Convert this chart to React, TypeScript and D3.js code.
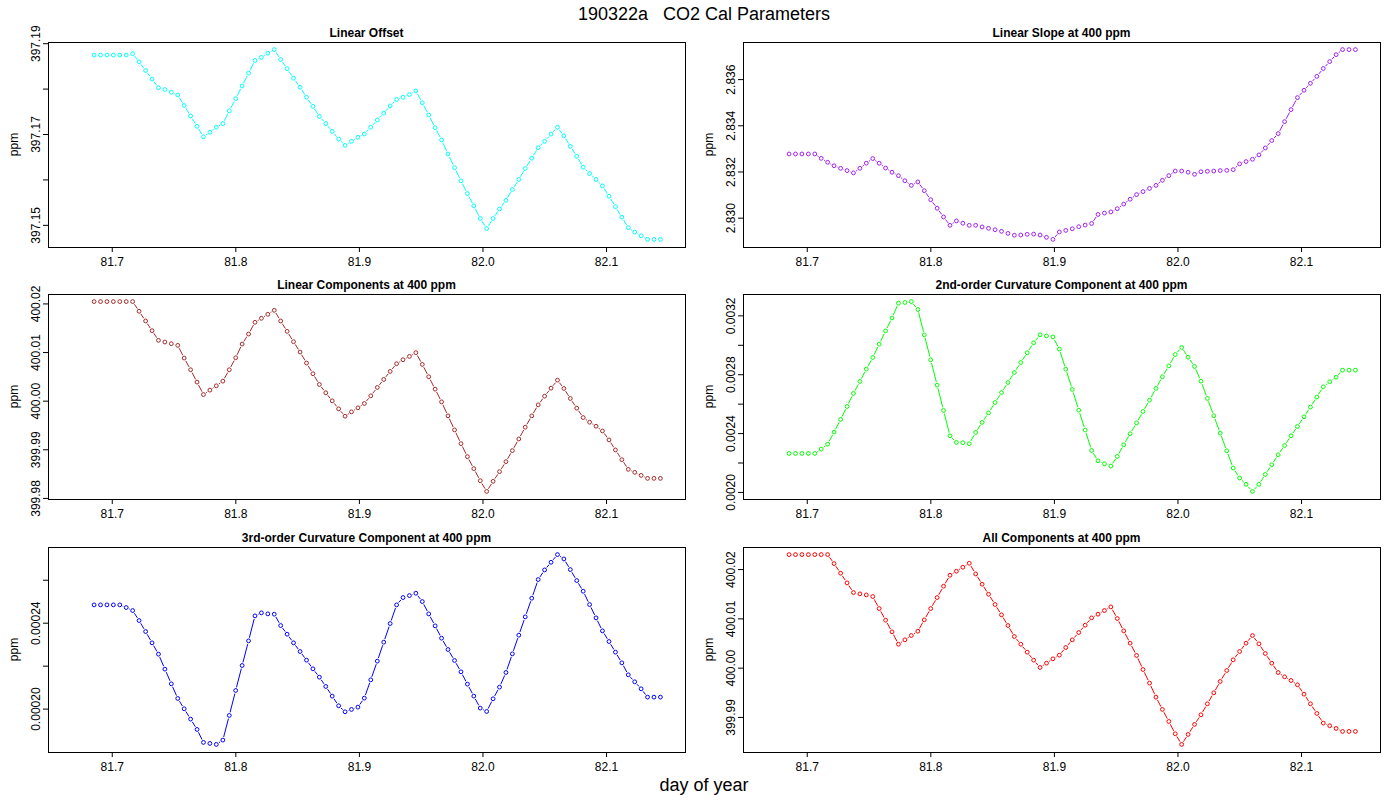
import * as d3 from 'd3';

// sample times (day of year), one every 7.5 min
const times = [
  81.6853, 81.6905, 81.6957, 81.7009, 81.7061, 81.7113, 81.7165, 81.7217, 81.7270, 81.7322,
  81.7374, 81.7426, 81.7478, 81.7530, 81.7582, 81.7634, 81.7686, 81.7738, 81.7790, 81.7842,
  81.7895, 81.7947, 81.7999, 81.8051, 81.8103, 81.8155, 81.8207, 81.8259, 81.8311, 81.8363,
  81.8415, 81.8467, 81.8520, 81.8572, 81.8624, 81.8676, 81.8728, 81.8780, 81.8832, 81.8884,
  81.8936, 81.8988, 81.9040, 81.9092, 81.9145, 81.9197, 81.9249, 81.9301, 81.9353, 81.9405,
  81.9457, 81.9509, 81.9561, 81.9613, 81.9665, 81.9717, 81.9770, 81.9822, 81.9874, 81.9926,
  81.9978, 82.0030, 82.0082, 82.0134, 82.0186, 82.0238, 82.0290, 82.0342, 82.0395, 82.0447,
  82.0499, 82.0551, 82.0603, 82.0655, 82.0707, 82.0759, 82.0811, 82.0863, 82.0915, 82.0967,
  82.1020, 82.1072, 82.1124, 82.1176, 82.1228, 82.1280, 82.1332, 82.1384, 82.1436,
];

const linearOffset = [
  397.1875, 397.1875, 397.1875, 397.1875, 397.1875, 397.1875, 397.1878, 397.1860, 397.1841, 397.1822,
  397.1803, 397.1799, 397.1793, 397.1787, 397.1764, 397.1741, 397.1718, 397.1695, 397.1705, 397.1716,
  397.1724, 397.1752, 397.1779, 397.1807, 397.1835, 397.1863, 397.1870, 397.1879, 397.1887, 397.1865,
  397.1845, 397.1824, 397.1804, 397.1782, 397.1762, 397.1740, 397.1724, 397.1707, 397.1690, 397.1676,
  397.1685, 397.1694, 397.1701, 397.1716, 397.1732, 397.1747, 397.1763, 397.1777, 397.1782, 397.1788,
  397.1796, 397.1770, 397.1743, 397.1715, 397.1688, 397.1657, 397.1627, 397.1598, 397.1570, 397.1543,
  397.1515, 397.1493, 397.1515, 397.1536, 397.1555, 397.1579, 397.1601, 397.1625, 397.1648, 397.1671,
  397.1685, 397.1701, 397.1716, 397.1697, 397.1674, 397.1652, 397.1628, 397.1614, 397.1601, 397.1587,
  397.1564, 397.1541, 397.1518, 397.1495, 397.1485, 397.1477, 397.1469, 397.1469, 397.1469,
];

const linearSlope = [
  2.83278, 2.83278, 2.83278, 2.83278, 2.83278, 2.83259, 2.83242, 2.83227, 2.83216, 2.83206,
  2.83196, 2.83216, 2.83238, 2.83258, 2.83238, 2.83217, 2.83199, 2.83184, 2.83162, 2.83142,
  2.83157, 2.83119, 2.83080, 2.83043, 2.83005, 2.82969, 2.82988, 2.82978, 2.82969, 2.82969,
  2.82962, 2.82956, 2.82950, 2.82943, 2.82934, 2.82926, 2.82927, 2.82930, 2.82931, 2.82927,
  2.82917, 2.82908, 2.82940, 2.82947, 2.82954, 2.82963, 2.82970, 2.82977, 2.83016, 2.83022,
  2.83027, 2.83041, 2.83061, 2.83082, 2.83102, 2.83115, 2.83129, 2.83142, 2.83164, 2.83184,
  2.83204, 2.83204, 2.83199, 2.83190, 2.83201, 2.83203, 2.83204, 2.83206, 2.83207, 2.83210,
  2.83235, 2.83245, 2.83255, 2.83274, 2.83304, 2.83336, 2.83366, 2.83418, 2.83470, 2.83522,
  2.83554, 2.83584, 2.83614, 2.83648, 2.83678, 2.83708, 2.83730, 2.83730, 2.83730,
];

const linearComponents = [
  400.02048, 400.02048, 400.02048, 400.02048, 400.02048, 400.02048, 400.02048, 400.01849, 400.01649, 400.01450,
  400.01251, 400.01216, 400.01182, 400.01148, 400.00887, 400.00646, 400.00392, 400.00137, 400.00227, 400.00316,
  400.00412, 400.00646, 400.00893, 400.01175, 400.01381, 400.01622, 400.01704, 400.01787, 400.01869, 400.01649,
  400.01436, 400.01223, 400.01010, 400.00784, 400.00564, 400.00344, 400.00172, 400.00007, 399.99842, 399.99691,
  399.99780, 399.99863, 399.99952, 400.00110, 400.00282, 400.00447, 400.00612, 400.00770, 400.00852, 400.00921,
  400.00997, 400.00756, 400.00502, 400.00247, 399.99986, 399.99698, 399.99409, 399.99127, 399.98859, 399.98612,
  399.98364, 399.98144, 399.98351, 399.98550, 399.98756, 399.98983, 399.99223, 399.99464, 399.99698, 399.99924,
  400.00103, 400.00268, 400.00433, 400.00261, 400.00055, 399.99856, 399.99663, 399.99567, 399.99485, 399.99388,
  399.99203, 399.98997, 399.98797, 399.98598, 399.98536, 399.98474, 399.98412, 399.98412, 399.98412,
];

const curvature2 = [
  0.002265, 0.002265, 0.002265, 0.002265, 0.002265, 0.002295, 0.002328, 0.002410, 0.002496, 0.002584,
  0.002673, 0.002754, 0.002838, 0.002917, 0.003008, 0.003098, 0.003186, 0.003286, 0.003291, 0.003297,
  0.003243, 0.003071, 0.002901, 0.002729, 0.002557, 0.002385, 0.002340, 0.002338, 0.002331, 0.002408,
  0.002476, 0.002541, 0.002611, 0.002679, 0.002747, 0.002815, 0.002883, 0.002949, 0.003017, 0.003071,
  0.003064, 0.003057, 0.002974, 0.002838, 0.002700, 0.002559, 0.002424, 0.002285, 0.002215, 0.002195,
  0.002179, 0.002245, 0.002324, 0.002399, 0.002473, 0.002550, 0.002627, 0.002707, 0.002786, 0.002860,
  0.002937, 0.002985, 0.002919, 0.002856, 0.002756, 0.002639, 0.002521, 0.002403, 0.002283, 0.002166,
  0.002098, 0.002055, 0.002007, 0.002055, 0.002122, 0.002188, 0.002256, 0.002319, 0.002385, 0.002448,
  0.002514, 0.002580, 0.002648, 0.002718, 0.002752, 0.002783, 0.002831, 0.002831, 0.002831,
];

const curvature3 = [
  0.00024853, 0.00024853, 0.00024853, 0.00024853, 0.00024853, 0.00024729, 0.00024589, 0.00024124, 0.00023612, 0.00023085,
  0.00022558, 0.00021860, 0.00021178, 0.00020496, 0.00020016, 0.00019535, 0.00019054, 0.00018450, 0.00018403, 0.00018357,
  0.00018558, 0.00019705, 0.00020868, 0.00022031, 0.00023178, 0.00024341, 0.00024481, 0.00024434, 0.00024419, 0.00023891,
  0.00023488, 0.00023085, 0.00022682, 0.00022279, 0.00021876, 0.00021488, 0.00021054, 0.00020605, 0.00020155, 0.00019876,
  0.00019985, 0.00020093, 0.00020512, 0.00021364, 0.00022233, 0.00023116, 0.00023984, 0.00024853, 0.00025194, 0.00025287,
  0.00025395, 0.00025008, 0.00024434, 0.00023876, 0.00023302, 0.00022775, 0.00022264, 0.00021736, 0.00021163, 0.00020605,
  0.00020047, 0.00019891, 0.00020481, 0.00021023, 0.00021705, 0.00022574, 0.00023442, 0.00024295, 0.00025163, 0.00026031,
  0.00026481, 0.00026837, 0.00027194, 0.00026992, 0.00026496, 0.00025984, 0.00025488, 0.00024868, 0.00024248, 0.00023643,
  0.00023147, 0.00022651, 0.00022155, 0.00021597, 0.00021271, 0.00020946, 0.00020558, 0.00020558, 0.00020558,
];

const allComponents = [
  400.02304, 400.02304, 400.02304, 400.02304, 400.02304, 400.02304, 400.02304, 400.02122, 400.01926, 400.01730,
  400.01534, 400.01507, 400.01486, 400.01453, 400.01209, 400.00973, 400.00736, 400.00486, 400.00574, 400.00662,
  400.00750, 400.00980, 400.01209, 400.01432, 400.01662, 400.01885, 400.01966, 400.02047, 400.02128, 400.01912,
  400.01703, 400.01500, 400.01291, 400.01081, 400.00865, 400.00642, 400.00486, 400.00324, 400.00162, 400.00014,
  400.00101, 400.00189, 400.00264, 400.00419, 400.00574, 400.00723, 400.00872, 400.01020, 400.01095, 400.01169,
  400.01243, 400.01007, 400.00757, 400.00507, 400.00257, 399.99973, 399.99696, 399.99412, 399.99162, 399.98919,
  399.98669, 399.98453, 399.98655, 399.98858, 399.99054, 399.99277, 399.99500, 399.99730, 399.99953, 400.00169,
  400.00338, 400.00507, 400.00662, 400.00493, 400.00297, 400.00101, 399.99912, 399.99824, 399.99750, 399.99662,
  399.99473, 399.99277, 399.99081, 399.98885, 399.98831, 399.98777, 399.98716, 399.98716, 399.98716,
];

const panelTitles = [
  'Linear Offset',
  'Linear Slope at 400 ppm',
  'Linear Components at 400 ppm',
  '2nd-order Curvature Component at 400 ppm',
  '3rd-order Curvature Component at 400 ppm',
  'All Components at 400 ppm',
];
const panelSeries = [linearOffset, linearSlope, linearComponents, curvature2, curvature3, allComponents];
const panelColors = ['#00FFFF', '#A020F0', '#A52A2A', '#00FF00', '#0000FF', '#FF0000'];
// tick counts chosen so d3 lands on the same steps as R's pretty()
const yTickCounts = [5, 5, 4, 5, 5, 4];

const mainTitle = '190322a   CO2 Cal Parameters';
const xTitle = 'day of year';
const yTitle = 'ppm';
const xDomain = [81.648, 82.1635];

const W = 1400;
const H = 800;
const FONT = '"Liberation Sans", Arial, Helvetica, sans-serif';
const colLeft = [48, 743];
const colWidth = 637;
const rowTop = [42, 294, 547];
const rowHeight = 205;

// rough Helvetica widths at 12px, good enough to decide which labels R would drop
function labelWidth(s: string) {
  let w = 0;
  for (const c of s) w += c === '.' ? 3.33 : c === '-' ? 4 : 6.67;
  return w;
}

function Panel({ idx }: { idx: number }) {
  const left = colLeft[idx % 2];
  const top = rowTop[Math.floor(idx / 2)];
  const right = left + colWidth;
  const bottom = top + rowHeight;
  const values = panelSeries[idx];
  const color = panelColors[idx];

  const x = d3.scaleLinear().domain(xDomain).range([left, right]);
  const [lo, hi] = d3.extent(values) as [number, number];
  const pad = (hi - lo) * 0.04;
  const y = d3.scaleLinear().domain([lo - pad, hi + pad]).range([bottom, top]);

  const yTicks = y.ticks(yTickCounts[idx]);
  const fmt = y.tickFormat(yTickCounts[idx]);
  // R drops a parallel label that would come closer than one 'm' to the previous one
  const shown: boolean[] = [];
  let lastEdge = Infinity;
  yTicks.forEach((t) => {
    const half = labelWidth(fmt(t)) / 2;
    const py = y(t);
    if (py + half + 10 <= lastEdge) {
      shown.push(true);
      lastEdge = py - half;
    } else shown.push(false);
  });

  const pts = values.map((v, i) => [x(times[i]), y(v)]);
  const gap = 3.2;
  const segs: string[] = [];
  for (let i = 1; i < pts.length; i++) {
    const [x1, y1] = pts[i - 1];
    const [x2, y2] = pts[i];
    const dx = x2 - x1;
    const dy = y2 - y1;
    const len = Math.hypot(dx, dy);
    if (len <= 2 * gap + 0.4) continue;
    const ux = dx / len;
    const uy = dy / len;
    segs.push(`M${x1 + ux * gap},${y1 + uy * gap}L${x2 - ux * gap},${y2 - uy * gap}`);
  }

  return (
    <g>
      <text x={(left + right) / 2} y={top - 5} textAnchor="middle" fontSize={12} fontWeight="bold">
        {panelTitles[idx]}
      </text>
      <path d={segs.join('')} stroke={color} strokeWidth={1} fill="none" />
      {pts.map(([px, py], i) => (
        <circle key={i} cx={px} cy={py} r={1.9} fill="none" stroke={color} strokeWidth={1} />
      ))}
      <rect x={left + 0.5} y={top + 0.5} width={colWidth} height={rowHeight} fill="none" stroke="#000" strokeWidth={1} />
      {x.ticks(5).map((t) => (
        <g key={t}>
          <line x1={x(t)} x2={x(t)} y1={bottom} y2={bottom + 5} stroke="#000" />
          <text x={x(t)} y={bottom + 19} textAnchor="middle" fontSize={12}>
            {d3.format('.1f')(t)}
          </text>
        </g>
      ))}
      {yTicks.map((t, i) => (
        <g key={t}>
          <line x1={left - 5} x2={left} y1={y(t)} y2={y(t)} stroke="#000" />
          {shown[i] && (
            <text transform={`translate(${left - 8},${y(t)}) rotate(-90)`} textAnchor="middle" fontSize={12}>
              {fmt(t)}
            </text>
          )}
        </g>
      ))}
      <text transform={`translate(${left - 30},${(top + bottom) / 2}) rotate(-90)`} textAnchor="middle" fontSize={12}>
        {yTitle}
      </text>
    </g>
  );
}

export default function App() {
  return (
    <svg
      width={W}
      height={H}
      style={{ position: 'absolute', left: 0, top: 0, background: '#fff' }}
      fontFamily={FONT}
    >
      <rect width={W} height={H} fill="#fff" />
      <text x={704} y={20} textAnchor="middle" fontSize={18} style={{ whiteSpace: 'pre' }}>
        {mainTitle}
      </text>
      {panelTitles.map((_, i) => (
        <Panel key={i} idx={i} />
      ))}
      <text x={704} y={791} textAnchor="middle" fontSize={18}>
        {xTitle}
      </text>
    </svg>
  );
}
